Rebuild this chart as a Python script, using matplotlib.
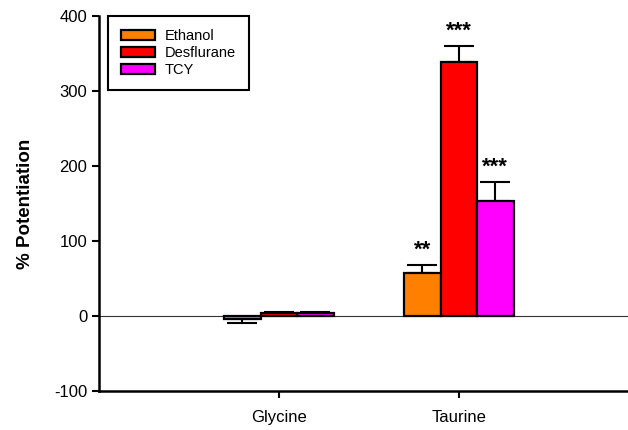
import numpy as np
import matplotlib.pyplot as plt

plt.rcParams['font.family'] = ['Liberation Sans', 'DejaVu Sans']
plt.rcParams['axes.unicode_minus'] = False

categories = ['Glycine', 'Taurine']
series = ['Ethanol', 'Desflurane', 'TCY']
colors = ['#ff8000', '#ff0000', '#ff00ff']

ethanol = [-4, 58]
desflurane = [4, 339]
tcy = [4, 154]
ethanol_err = [5, 10]
desflurane_err = [1, 21]
tcy_err = [1, 25]
stars = [['', '**'], ['', '***'], ['', '***']]

values = [ethanol, desflurane, tcy]
errors = [ethanol_err, desflurane_err, tcy_err]

fig = plt.figure(figsize=(6.28, 4.30), dpi=100)
ax = fig.add_axes([99 / 628, 39 / 430, 529 / 628, 375 / 430])

x = np.arange(1, len(categories) + 1)
width = 0.203
offsets = [-width, 0, width]

ax.axhline(0, color='#333333', lw=0.8, zorder=1)

for i, name in enumerate(series):
    vals = np.array(values[i])
    errs = np.array(errors[i])
    lower = np.where(vals < 0, errs, 0)
    upper = np.where(vals >= 0, errs, 0)
    ax.bar(x + offsets[i], vals, width, color=colors[i], edgecolor='black',
           linewidth=1.6, label=name, zorder=3)
    ax.errorbar(x + offsets[i], vals, yerr=[lower, upper], fmt='none',
                ecolor='black', elinewidth=1.5, capsize=10.5, capthick=1.5, zorder=2)
    for j in range(len(categories)):
        if stars[i][j]:
            ax.annotate(stars[i][j], (x[j] + offsets[i], vals[j] + errs[j]),
                        xytext=(0, 3), textcoords='offset points',
                        ha='center', va='bottom', fontsize=16, fontweight='bold')

ax.set_xlim(0, 2.94)
ax.set_ylim(-100, 400)
ax.set_yticks([-100, 0, 100, 200, 300, 400])
ax.set_xticks(x)
ax.set_xticklabels(categories, fontsize=12)
ax.tick_params(axis='y', labelsize=12, width=1.5, length=5)
ax.tick_params(axis='x', width=1.5, length=5, pad=9)
ax.set_ylabel('% Potentiation', fontsize=13.5, fontweight='bold', labelpad=14)

for side in ['top', 'right']:
    ax.spines[side].set_visible(False)
for side in ['left', 'bottom']:
    ax.spines[side].set_linewidth(1.8)

leg = ax.legend(loc='upper left', bbox_to_anchor=(0.017, 1.0), borderaxespad=0,
                fontsize=10.5, fancybox=False, edgecolor='black', framealpha=1,
                handlelength=2.3, handleheight=0.75, handletextpad=0.7,
                borderpad=0.9, labelspacing=0.2)
leg.get_frame().set_linewidth(1.5)

fig.savefig('out.png', dpi=100)
